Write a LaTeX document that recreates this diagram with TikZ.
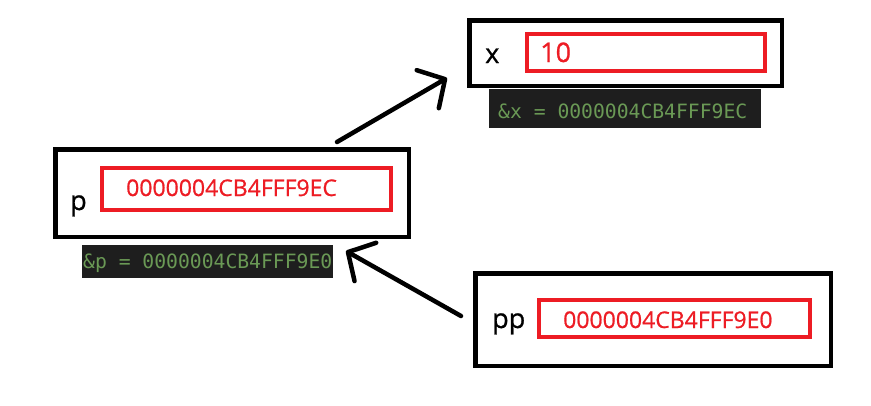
\documentclass[tikz,border=0pt]{standalone}
\usepackage{fontspec}
\setmainfont{Open Sans}
\setmonofont{DejaVu Sans Mono}
\newfontfamily\semib{Open Sans}[FakeBold=0.8]
\usetikzlibrary{arrows.meta}
\definecolor{pred}{HTML}{ED1C24}
\definecolor{dark}{HTML}{1E1E1E}
\definecolor{cgreen}{HTML}{6A9955}
\tikzset{
  outer/.style={draw=black, line width=4.5pt, inner sep=0pt},
  redbox/.style={draw=pred, line width=4pt, inner sep=0pt},
  darkbox/.style={fill=dark, inner sep=0pt},
  lbl/.style={anchor=base west, inner sep=0pt, font=\semib\fontsize{27}{27}\selectfont},
  val/.style={anchor=base west, inner sep=0pt, text=pred, font=\semib\fontsize{23}{23}\selectfont},
  mono/.style={anchor=base west, inner sep=0pt, text=cgreen, font=\ttfamily\fontsize{19.7}{20}\selectfont},
  arr/.style={line width=4.5pt, line cap=round, line join=round, -{Straight Barb[length=20pt,width=44pt,line cap=round,line join=round]}}
}
\begin{document}
\begin{tikzpicture}[x=1pt,y=-1pt]
\useasboundingbox[fill=white] (0,0) rectangle (871,405);
% x
\node[outer, minimum width=312.5pt, minimum height=65.5pt] (xbox) at (625.5,53) {};
\node[redbox, minimum width=238pt, minimum height=37pt] (xval) at (646,52.5) {};
\node[darkbox, minimum width=272pt, minimum height=39pt] (xaddr) at (625,108.5) {};
\node[lbl] (xl) at (485,63) {x};
\node[val, font=\semib\fontsize{27}{27}\selectfont] (xv) at (540,62) {10};
\node[mono] (xa) at (498,118) {\&x = 0000004CB4FFF9EC};
% p
\node[outer, minimum width=353.5pt, minimum height=87.5pt] (pbox) at (232,193) {};
\node[redbox, minimum width=289pt, minimum height=42pt] (pval) at (246.5,189) {};
\node[darkbox, minimum width=251pt, minimum height=33pt] (paddr) at (207.5,261.5) {};
\node[lbl] (pl) at (70,210) {p};
\node[val] (pv) at (126,196) {0000004CB4FFF9EC};
\node[mono] (pa) at (83,268) {\&p = 0000004CB4FFF9E0};
% pp
\node[outer, minimum width=355.5pt, minimum height=92.5pt] (ppbox) at (653,319.5) {};
\node[redbox, minimum width=271pt, minimum height=37pt] (ppval) at (674.5,318.5) {};
\node[lbl] (ppl) at (492,328) {pp};
\node[val] (ppv) at (563,328) {0000004CB4FFF9E0};
% arrows
\coordinate (a1s) at (337,142);
\coordinate (a1e) at (447,78);
\coordinate (a2s) at (461,316);
\coordinate (a2e) at (346,251);
\draw[arr] (a1s) -- (a1e);
\draw[arr] (a2s) -- (a2e);
\end{tikzpicture}
\end{document}
